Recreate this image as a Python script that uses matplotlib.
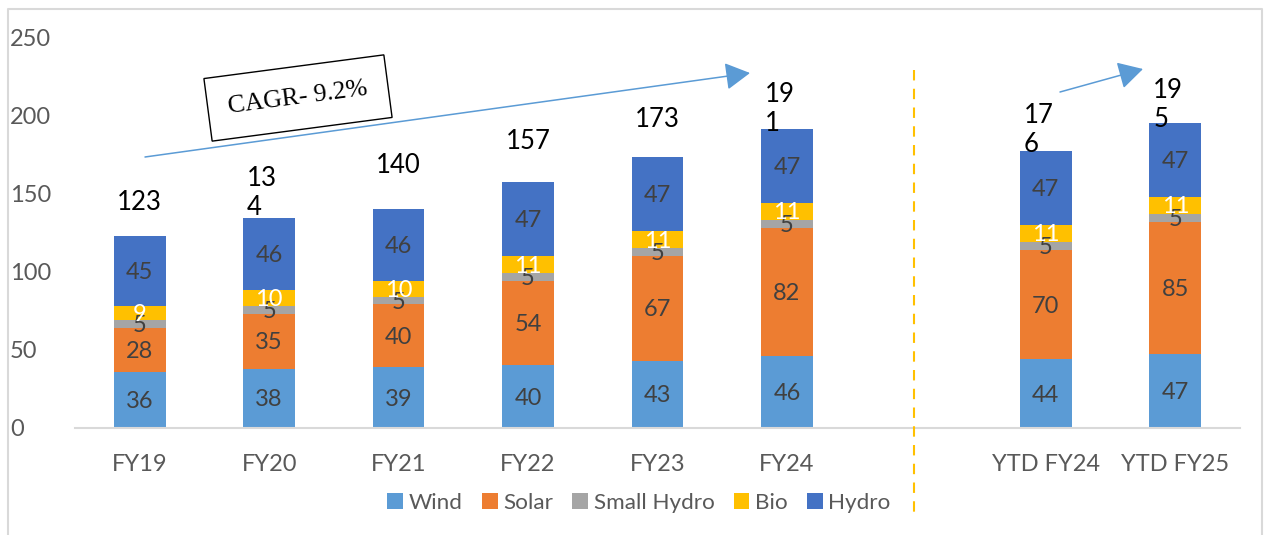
"""Renewable capacity by source, FY19 to YTD FY25 (stacked bars)."""

import matplotlib

matplotlib.use("Agg")
import matplotlib.pyplot as plt  # noqa: E402
from matplotlib.lines import Line2D  # noqa: E402
from matplotlib.patches import FancyArrowPatch  # noqa: E402

CATEGORIES = ["FY19", "FY20", "FY21", "FY22", "FY23", "FY24", "YTD FY24", "YTD FY25"]
POSITIONS = [0, 1, 2, 3, 4, 5, 7, 8]
SERIES = ["Wind", "Solar", "Small Hydro", "Bio", "Hydro"]
WIND = [36, 38, 39, 40, 43, 46, 44, 47]
SOLAR = [28, 35, 40, 54, 67, 82, 70, 85]
SMALL_HYDRO = [5, 5, 5, 5, 5, 5, 5, 5]
BIO = [9, 10, 10, 11, 11, 11, 11, 11]
HYDRO = [45, 46, 46, 47, 47, 47, 47, 47]
TOTALS = [123, 134, 140, 157, 173, 191, 176, 195]
WRAPPED = [False, True, False, False, False, True, True, True]
CAGR_TEXT = "CAGR- 9.2%"

COLORS = ["#5B9BD5", "#ED7D31", "#A5A5A5", "#FFC000", "#4472C4"]
LABEL_COLORS = ["#404040", "#404040", "#404040", "white", "#404040"]
# vertical gap (data units) between bar top and bottom of total label
TOTAL_PAD = [13, -1, 20, 18, 16, -4, -4, -6]

W, H = 1264, 535
plt.rcParams["font.family"] = ["Lato", "DejaVu Sans"]

fig = plt.figure(figsize=(W / 100, H / 100), dpi=100)
ax = fig.add_axes([75 / W, 1 - 428 / H, (1240 - 75) / W, (428 - 37) / H])

values = [WIND, SOLAR, SMALL_HYDRO, BIO, HYDRO]
bottom = [0] * len(CATEGORIES)
for name, vals, color, lcolor in zip(SERIES, values, COLORS, LABEL_COLORS):
    bars = ax.bar(POSITIONS, vals, bottom=bottom, width=0.4, color=color,
                  label=name, zorder=2)
    for bar, v in zip(bars, vals):
        ax.text(bar.get_x() + bar.get_width() / 2,
                bar.get_y() + bar.get_height() / 2 - 1, str(v),
                ha="center", va="center", fontsize=17, color=lcolor, zorder=3)
    bottom = [b + v for b, v in zip(bottom, vals)]

for x, top, total, wrap, pad in zip(POSITIONS, bottom, TOTALS, WRAPPED, TOTAL_PAD):
    s = str(total)
    if wrap:
        ax.text(x - 0.17, top + pad, s[:2] + "\n" + s[2:], ha="left", va="bottom",
                fontsize=18.5, color="black", linespacing=1.2, zorder=4)
    else:
        ax.text(x, top + pad, s, ha="center", va="bottom", fontsize=18.5,
                color="black", zorder=4)

ax.set_xlim(-0.5, 8.5)
ax.set_ylim(0, 250)
ax.set_yticks(range(0, 251, 50))
ax.set_xticks(POSITIONS)
ax.set_xticklabels(CATEGORIES)
ax.tick_params(axis="both", length=0, labelsize=17, colors="#595959")
ax.tick_params(axis="x", pad=19)
ax.tick_params(axis="y", pad=0)
for lbl in ax.get_yticklabels():
    lbl.set_horizontalalignment("left")
    lbl.set_x(-65 / (1240 - 75))
for side in ("top", "right", "left"):
    ax.spines[side].set_visible(False)
ax.spines["bottom"].set_color("#D9D9D9")
ax.spines["bottom"].set_linewidth(1.5)

# separator between full years and YTD
fig.add_artist(Line2D([914 / W, 914 / W], [1 - 70 / H, 1 - 515 / H],
                      transform=fig.transFigure, color="#FFC000",
                      linestyle=(0, (5, 4)), linewidth=1.5))

# growth arrows
for (x0, y0), (x1, y1) in [((145, 157), (750, 73)), ((1060, 92), (1143, 69))]:
    fig.add_artist(FancyArrowPatch(
        (x0 / W, 1 - y0 / H), (x1 / W, 1 - y1 / H), transform=fig.transFigure,
        arrowstyle="-|>,head_length=9,head_width=5", mutation_scale=1.7,
        color="#5B9BD5", linewidth=1.1, shrinkA=0, shrinkB=0))

fig.text(298 / W, 1 - 98 / H, CAGR_TEXT, rotation=7.5, ha="center", va="center",
         family="Liberation Serif", fontsize=18.5, color="black",
         bbox=dict(boxstyle="square,pad=0.8", facecolor="white",
                   edgecolor="black", linewidth=1.0))

handles, labels = ax.get_legend_handles_labels()
fig.legend(handles, labels, loc="center", bbox_to_anchor=(639 / W, 1 - 503 / H),
           ncol=5, frameon=False, fontsize=16.2, handlelength=0.7,
           handleheight=0.7, handletextpad=0.25, columnspacing=0.85,
           labelcolor="#595959")

fig.add_artist(Line2D([8 / W, 8 / W, 1262 / W, 1262 / W],
                      [0, 1 - 9 / H, 1 - 9 / H, 0], transform=fig.transFigure,
                      color="#D9D9D9", linewidth=1.5))

fig.savefig("out.png", dpi=100)
